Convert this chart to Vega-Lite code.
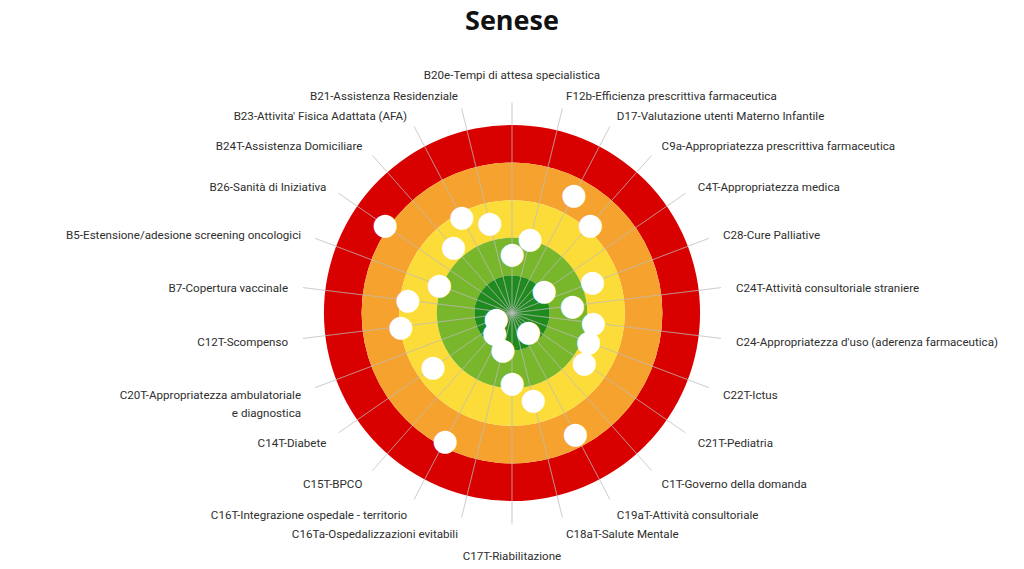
{
  "$schema": "https://vega.github.io/schema/vega-lite/v6.json",
  "width": 1024,
  "height": 512,
  "autosize": {"type": "none"},
  "padding": {"top": 57, "left": 0, "right": 0, "bottom": 0},
  "background": "white",
  "title": {"text": "Senese", "font": "Open Sans", "fontSize": 27, "fontWeight": "bold", "color": "#111111", "anchor": "middle", "frame": "group", "offset": 21},
  "config": {"view": {"stroke": null}},
  "datasets": {
    "fasce": [
      {"fascia": "0-1", "da": 0, "a": 1},
      {"fascia": "1-2", "da": 1, "a": 2},
      {"fascia": "2-3", "da": 2, "a": 3},
      {"fascia": "3-4", "da": 3, "a": 4},
      {"fascia": "4-5", "da": 4, "a": 5}
    ],
    "ind": [
      {"i": 0, "label": "B20e-Tempi di attesa specialistica", "score": 3.43},
      {"i": 1, "label": "F12b-Efficienza prescrittiva farmaceutica", "score": 2.98},
      {"i": 2, "label": "D17-Valutazione utenti Materno Infantile", "score": 1.46},
      {"i": 3, "label": "C9a-Appropriatezza prescrittiva farmaceutica", "score": 1.86},
      {"i": 4, "label": "C4T-Appropriatezza medica", "score": 3.96},
      {"i": 5, "label": "C28-Cure Palliative", "score": 2.71},
      {"i": 6, "label": "C24T-Attività consultoriale straniere", "score": 3.38},
      {"i": 7, "label": "C24-Appropriatezza d'uso (aderenza farmaceutica)", "score": 2.82},
      {"i": 8, "label": "C22T-Ictus", "score": 2.82},
      {"i": 9, "label": "C21T-Pediatria", "score": 2.66},
      {"i": 10, "label": "C1T-Governo della domanda", "score": 4.34},
      {"i": 11, "label": "C19aT-Attività consultoriale", "score": 1.38},
      {"i": 12, "label": "C18aT-Salute Mentale", "score": 2.63},
      {"i": 13, "label": "C17T-Riabilitazione", "score": 3.14},
      {"i": 14, "label": "C16Ta-Ospedalizzazioni evitabili", "score": 3.99},
      {"i": 15, "label": "C16T-Integrazione ospedale - territorio", "score": 1.17},
      {"i": 16, "label": "C15T-BPCO", "score": 4.30},
      {"i": 17, "label": "C14T-Diabete", "score": 2.45},
      {"i": 18, "label": "C20T-Appropriatezza ambulatoriale\ne diagnostica", "score": 4.55},
      {"i": 19, "label": "C12T-Scompenso", "score": 2.02},
      {"i": 20, "label": "B7-Copertura vaccinale", "score": 2.21},
      {"i": 21, "label": "B5-Estensione/adesione screening oncologici", "score": 2.93},
      {"i": 22, "label": "B26-Sanità di Iniziativa", "score": 0.90},
      {"i": 23, "label": "B24T-Assistenza Domiciliare", "score": 2.66},
      {"i": 24, "label": "B23-Attivita' Fisica Adattata (AFA)", "score": 2.13},
      {"i": 25, "label": "B21-Assistenza Residenziale", "score": 2.53}
    ]
  },
  "layer": [
    {
      "data": {"name": "fasce"},
      "mark": {"type": "arc", "theta": 0, "theta2": 6.2832},
      "encoding": {
        "radius": {"field": "da", "type": "quantitative", "scale": {"type": "linear", "domain": [0, 5], "range": [188, 0], "zero": false}},
        "radius2": {"field": "a"},
        "color": {"field": "fascia", "type": "nominal", "scale": {"domain": ["0-1", "1-2", "2-3", "3-4", "4-5"], "range": ["#d90000", "#f6a22e", "#fcdc38", "#78b62c", "#1f8a1e"]}, "legend": null}
      }
    },
    {
      "data": {"name": "ind"},
      "mark": {"type": "arc", "stroke": "#bcbcbc", "strokeOpacity": 0.5, "strokeWidth": 0.9, "fillOpacity": 0},
      "encoding": {
        "theta": {"field": "i", "type": "quantitative", "stack": null, "scale": {"domain": [0, 26], "range": [0, 6.2832], "zero": false}},
        "theta2": {"field": "i"},
        "radius": {"datum": -0.6, "type": "quantitative"},
        "radius2": {"datum": 5}
      }
    },
    {
      "data": {"name": "ind"},
      "mark": {"type": "text", "text": "●", "font": "DejaVu Sans", "fontSize": 30, "color": "white", "align": "center", "baseline": "middle"},
      "encoding": {
        "theta": {"field": "i", "type": "quantitative", "stack": null},
        "radius": {"field": "score", "type": "quantitative"}
      }
    },
    {
      "data": {"name": "ind"},
      "transform": [{"filter": "datum.i >= 1 && datum.i <= 12"}],
      "mark": {"type": "text", "font": "Roboto", "fontSize": 11.6, "color": "#2e2e2e", "align": "left", "baseline": "middle", "dy": 3.3},
      "encoding": {
        "theta": {"field": "i", "type": "quantitative", "stack": null},
        "radius": {"datum": -1, "type": "quantitative"},
        "text": {"field": "label", "type": "nominal"}
      }
    },
    {
      "data": {"name": "ind"},
      "transform": [{"filter": "datum.i >= 14"}],
      "mark": {"type": "text", "font": "Roboto", "fontSize": 11.6, "color": "#2e2e2e", "align": "right", "baseline": "middle", "dy": 3.3, "lineBreak": "\n", "lineHeight": 18},
      "encoding": {
        "theta": {"field": "i", "type": "quantitative", "stack": null},
        "radius": {"datum": -1, "type": "quantitative"},
        "text": {"field": "label", "type": "nominal"}
      }
    },
    {
      "data": {"name": "ind"},
      "transform": [{"filter": "datum.i == 0 || datum.i == 13"}],
      "mark": {"type": "text", "font": "Roboto", "fontSize": 11.6, "color": "#2e2e2e", "align": "center", "baseline": "middle", "dy": 3.3},
      "encoding": {
        "theta": {"field": "i", "type": "quantitative", "stack": null},
        "radius": {"datum": -1.4, "type": "quantitative"},
        "text": {"field": "label", "type": "nominal"}
      }
    }
  ]
}
